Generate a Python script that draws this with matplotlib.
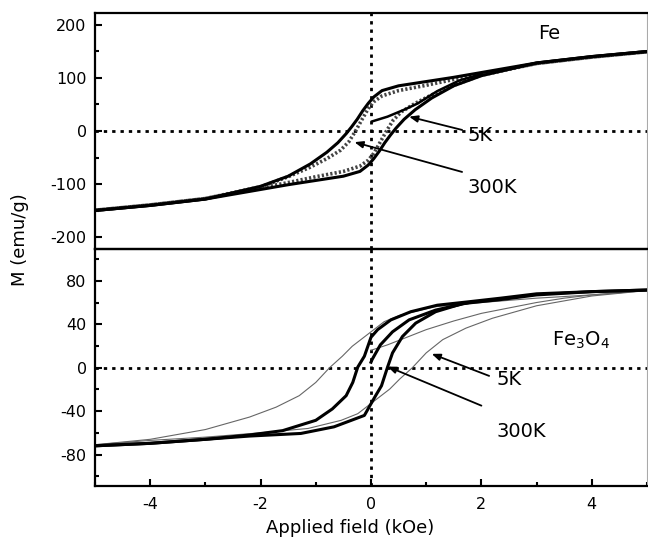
import numpy as np
import matplotlib.pyplot as plt
from matplotlib.ticker import MultipleLocator

plt.rcParams['font.family'] = ['DejaVu Sans']
plt.rcParams['axes.unicode_minus'] = False

# Fe, outer loop drawn as solid line
fe_a_desc_h = [5, 4, 3, 2, 1.5, 1.0, 0.5, 0.2, 0.05, -0.05, -0.15, -0.25, -0.35, -0.45,
               -0.6, -0.8, -1.1, -1.5, -2, -3, -4, -5]
fe_a_desc_m = [149.5, 140, 128, 110, 101, 93, 85, 76, 64, 52, 38, 22, 8, -5,
               -22, -40, -62, -85, -104, -128, -140, -149.5]
fe_a_asc_h = [-5, -4, -3, -2, -1.5, -1.0, -0.5, -0.2, -0.05, 0.05, 0.15, 0.25, 0.35, 0.45,
              0.6, 0.8, 1.1, 1.5, 2, 3, 4, 5]
fe_a_asc_m = [-149.5, -140, -128, -110, -101, -93, -85, -76, -64, -52, -38, -22, -8, 5,
              22, 40, 62, 85, 104, 128, 140, 149.5]
# Fe, inner loop drawn with open symbols
fe_b_desc_h = [5, 4, 3, 2, 1.5, 1.0, 0.5, 0.2, 0.05, -0.05, -0.15, -0.28, -0.4, -0.55,
               -0.8, -1.1, -1.5, -2, -3, -4, -5]
fe_b_desc_m = [149, 139, 127, 107, 97, 86, 76, 66, 55, 42, 24, 0, -20, -36,
               -52, -68, -86, -105, -127, -139, -149]
fe_b_asc_h = [-5, -4, -3, -2, -1.5, -1.0, -0.5, -0.2, -0.05, 0.05, 0.15, 0.28, 0.4, 0.55,
              0.8, 1.1, 1.5, 2, 3, 4, 5]
fe_b_asc_m = [-149, -139, -127, -107, -97, -86, -76, -66, -55, -42, -24, 0, 20, 36,
              52, 68, 86, 105, 127, 139, 149]
fe_virgin_h = [0.02, 0.3, 0.6, 0.85, 1.2, 1.6, 2.0]
fe_virgin_m = [18, 27, 40, 52, 75, 95, 107]

# Fe3O4, 300K (thick)
fo_hot_desc_h = [5, 4, 3, 2.35, 1.74, 1.2, 0.72, 0.36, 0.12, 0.0, -0.12, -0.24, -0.33, -0.45,
                 -0.7, -1.0, -1.6, -2.2, -3, -4, -5]
fo_hot_desc_m = [71.5, 70, 68, 64, 60.5, 57.5, 51.5, 44, 35, 28, 10.5, 0.5, -13.6, -25.8,
                 -38, -48.5, -58, -62, -66, -69.7, -72]
fo_hot_asc_h = [-5, -4, -3, -2.2, -1.27, -0.67, -0.12, 0.07, 0.19, 0.30, 0.39, 0.57, 0.81,
                1.17, 1.66, 2.35, 3, 4, 5]
fo_hot_asc_m = [-72, -69.7, -66, -63, -60.6, -54.5, -44, -27, -16.7, 0.5, 13.6, 28.7, 41,
                51.5, 59, 62.7, 67, 70, 71.5]
fo_hot_virgin_h = [0.0, 0.02, 0.17, 0.39, 0.69, 1.17, 1.74]
fo_hot_virgin_m = [5, 7.5, 21, 33, 44, 53, 59.6]

# Fe3O4, 5K (thin)
fo_cold_desc_h = [5, 4, 3, 2, 1.14, 0.54, 0.24, 0.0, -0.34, -0.52, -0.75, -1.0, -1.3, -1.72,
                  -2.2, -3, -4, -5]
fo_cold_desc_m = [71, 67, 64, 60, 56, 48.5, 42.4, 33, 19.7, 10.5, 0, -13.6, -25.8, -36.4,
                  -45.5, -57, -66, -71]
fo_cold_asc_h = [-5, -4, -3, -2, -1.14, -0.54, -0.24, 0.0, 0.34, 0.52, 0.75, 1.0, 1.3, 1.72,
                 2.2, 3, 4, 5]
fo_cold_asc_m = [-71, -67, -64, -60, -56, -48.5, -42.4, -33, -19.7, -10.5, 0, 13.6, 25.8, 36.4,
                 45.5, 57, 66, 71]
fo_cold_virgin_h = [0.0, 0.3, 0.6, 1.0, 1.5, 2.0, 2.5, 3.0, 3.5, 4.0, 5.0]
fo_cold_virgin_m = [16, 21, 27, 35, 43, 50, 55, 60, 64, 67, 71]

W, H = 648, 546
fig = plt.figure(figsize=(W / 100, H / 100), dpi=100)
left, right = 95 / W, 647 / W
ax1 = fig.add_axes([left, 1 - 249.3 / H, right - left, (249.3 - 12.7) / H])
ax2 = fig.add_axes([left, 1 - 486 / H, right - left, (486 - 249.3) / H])

dot = (0, (1.2, 1.8))
for ax in (ax1, ax2):
    ax.patch.set_alpha(0)
    ax.axhline(0, color='black', lw=2, ls=dot, zorder=1)
    ax.axvline(0, color='black', lw=2, ls=dot, zorder=1)
    ax.set_xlim(-5, 5)
    ax.xaxis.set_major_locator(MultipleLocator(2))
    ax.xaxis.set_minor_locator(MultipleLocator(1))
    ax.tick_params(which='both', direction='in', width=1.5, labelsize=11.5,
                   top=False, right=False)
    ax.tick_params(which='major', length=5)
    ax.tick_params(which='minor', length=3)
    ax.tick_params(axis='y', pad=6)
    ax.tick_params(axis='x', pad=8)
    for s in ('left', 'top', 'bottom'):
        ax.spines[s].set_linewidth(1.6)
    ax.spines['right'].set_color('#aaaaaa')
    ax.spines['right'].set_linewidth(0.8)

# top panel: Fe
ax1.plot(fe_b_desc_h, fe_b_desc_m, color='#444444', lw=2.6, ls=(0, (0.6, 0.6)), zorder=2)
ax1.plot(fe_b_asc_h, fe_b_asc_m, color='#444444', lw=2.6, ls=(0, (0.6, 0.6)), zorder=2)
ax1.plot(fe_a_desc_h, fe_a_desc_m, color='black', lw=2.2, zorder=3)
ax1.plot(fe_a_asc_h, fe_a_asc_m, color='black', lw=2.2, zorder=3)
ax1.plot(fe_virgin_h, fe_virgin_m, color='black', lw=1.8, zorder=3)
ax1.set_ylim(-222.5, 222.5)
ax1.yaxis.set_major_locator(MultipleLocator(100))
ax1.yaxis.set_minor_locator(MultipleLocator(50))
ax1.tick_params(axis='x', which='both', bottom=False, labelbottom=False)

ax1.text(3.02, 183, 'Fe', fontsize=14, va='center', ha='left')
ax1.text(1.74, -8, '5K', fontsize=14, va='center', ha='left')
ax1.text(1.74, -106, '300K', fontsize=14, va='center', ha='left')
arrow = dict(arrowstyle='-|>,head_length=0.5,head_width=0.2', color='black', lw=1.3,
             shrinkA=0, shrinkB=0)
ax1.annotate('', xy=(0.69, 27), xytext=(1.65, 2), arrowprops=arrow)
ax1.annotate('', xy=(-0.3, -21), xytext=(1.65, -77), arrowprops=arrow)

# bottom panel: Fe3O4
ax2.plot(fo_cold_desc_h, fo_cold_desc_m, color='#666666', lw=0.8, zorder=2)
ax2.plot(fo_cold_asc_h, fo_cold_asc_m, color='#666666', lw=0.8, zorder=2)
ax2.plot(fo_cold_virgin_h, fo_cold_virgin_m, color='#666666', lw=0.8, zorder=2)
ax2.plot(fo_hot_desc_h, fo_hot_desc_m, color='black', lw=2.2, zorder=3)
ax2.plot(fo_hot_asc_h, fo_hot_asc_m, color='black', lw=2.2, zorder=3)
ax2.plot(fo_hot_virgin_h, fo_hot_virgin_m, color='black', lw=2.2, zorder=3)
ax2.set_ylim(-109, 109)
ax2.yaxis.set_major_locator(MultipleLocator(40))
ax2.yaxis.set_minor_locator(MultipleLocator(20))

ax2.text(3.28, 25, 'Fe$_3$O$_4$', fontsize=14, va='center', ha='left')
ax2.text(2.27, -11, '5K', fontsize=14, va='center', ha='left')
ax2.text(2.27, -59, '300K', fontsize=14, va='center', ha='left')
ax2.annotate('', xy=(1.10, 12.7), xytext=(2.14, -7.6), arrowprops=arrow)
ax2.annotate('', xy=(0.3, 1), xytext=(2.0, -35), arrowprops=arrow)

fig.text(20 / W, 1 - 240 / H, 'M (emu/g)', rotation=90, fontsize=13,
         ha='center', va='center')
fig.text(350 / W, 1 - 528 / H, 'Applied field (kOe)', fontsize=13,
         ha='center', va='center')

fig.savefig('out.png', dpi=100)
